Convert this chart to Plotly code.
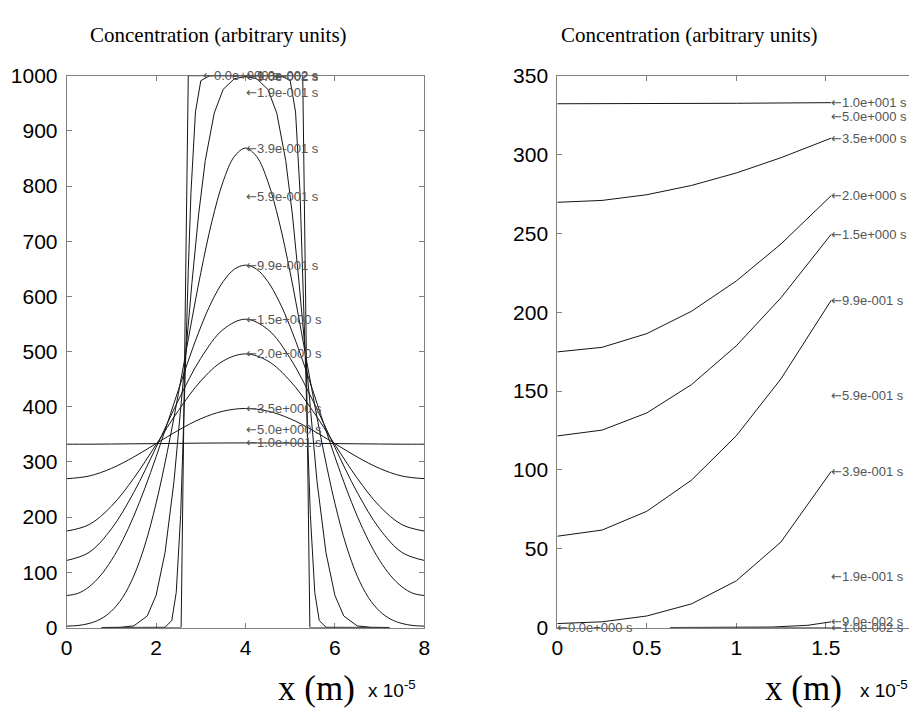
import plotly.graph_objects as go

# ---------------- data (x in units of 1e-5 m) ----------------
# Left panel: whole domain
X_HALF = [0, 0.5, 1, 1.5, 2, 2.5, 3, 3.5, 4, 4.5, 5, 5.5, 6, 6.5, 7, 7.5, 8]
X_QUARTER = [0, 0.25, 0.5, 0.75, 1, 1.25, 1.5, 1.75, 2, 2.25, 2.5, 2.75, 3, 3.25, 3.5, 3.75, 4,
             4.25, 4.5, 4.75, 5, 5.25, 5.5, 5.75, 6, 6.25, 6.5, 6.75, 7, 7.25, 7.5, 7.75, 8]

L_T10 = [332.2, 332.2, 332.5, 332.9, 333.3, 333.7, 334.1, 334.4, 334.5, 334.4, 334.1, 333.7, 333.3, 332.9, 332.5, 332.2, 332.2]
L_T3_5 = [269.7, 274.5, 288.3, 309.0, 333.3, 357.6, 378.3, 392.1, 396.9, 392.1, 378.3, 357.6, 333.3, 309.0, 288.3, 274.5, 269.7]
L_T2_0 = [174.8, 186.4, 219.8, 270.5, 331.3, 393.3, 446.8, 483.0, 495.8, 483.0, 446.8, 393.3, 331.3, 270.5, 219.8, 186.4, 174.8]
L_T1_5 = [121.5, 136.1, 178.7, 244.8, 326.5, 412.2, 487.9, 540.1, 558.7, 540.1, 487.9, 412.2, 326.5, 244.8, 178.7, 136.1, 121.5]
L_T0_99 = [57.9, 61.8, 73.7, 93.6, 121.6, 157.8, 201.7, 252.7, 309.3, 369.5, 430.9, 490.4, 545.0, 591.4, 626.9, 649.2, 656.7,
           649.2, 626.9, 591.4, 545.0, 490.4, 430.9, 369.5, 309.3, 252.7, 201.7, 157.8, 121.6, 93.6, 73.7, 61.8, 57.9]
L_T0_39 = [2.5, 3.6, 7.3, 15.0, 29.6, 54.3, 93.2, 149.5, 225.1, 318.3, 424.5, 535.8, 642.9, 736.3, 808.3, 853.5, 868.8,
           853.5, 808.3, 736.3, 642.9, 535.8, 424.5, 318.3, 225.1, 149.5, 93.2, 54.3, 29.6, 15.0, 7.3, 3.6, 2.5]

X_T0_09 = [0.78, 1.2, 1.5, 1.8, 2.0, 2.2, 2.4, 2.55, 2.667, 2.8, 2.95, 3.1, 3.3, 3.5, 3.75, 4.0,
           4.25, 4.5, 4.7, 4.9, 5.05, 5.2, 5.333, 5.45, 5.6, 5.8, 6.0, 6.2, 6.5, 6.8, 7.22]
L_T0_09 = [0, 0.3, 2.9, 20.7, 58.2, 135.7, 264.7, 391.4, 500, 623.2, 747.8, 846.3, 932.1, 975.2, 994.6, 998.3,
           994.6, 975.2, 932.1, 846.3, 747.8, 623.2, 500, 391.4, 264.7, 135.7, 58.2, 20.7, 2.9, 0.3, 0]

X_T0_01 = [0.78, 2.2, 2.35, 2.45, 2.55, 2.61, 2.667, 2.72, 2.78, 2.88, 3.0, 3.2,
           4.8, 5.0, 5.12, 5.22, 5.28, 5.333, 5.39, 5.45, 5.55, 5.65, 5.8, 7.22]
L_T0_01 = [0, 0.4, 12.7, 63.3, 204.8, 344.5, 500, 647, 788.5, 934.3, 990.9, 1000,
           1000, 990.9, 934.3, 788.5, 647, 500, 344.5, 204.8, 63.3, 12.7, 0.4, 0]

X_T0 = [0.78, 2.56, 2.72, 5.28, 5.44, 7.22]
L_T0 = [0, 0, 1000, 1000, 0, 0]

# Left panel labels
L_LABELS = ["0.0e+000 s", "1.0e-002 s", "9.0e-002 s", "1.9e-001 s", "3.9e-001 s", "5.9e-001 s",
            "9.9e-001 s", "1.5e+000 s", "2.0e+000 s", "3.5e+000 s", "5.0e+000 s", "1.0e+001 s"]
L_LABEL_X = [3.04, 4, 4, 4, 4, 4, 4, 4, 4, 4, 4, 4]
L_LABEL_Y = [1000, 1000, 998.3, 969, 868.8, 780.4, 656.7, 558.7, 495.8, 396.9, 358.5, 334.5]

# Right panel: zoom on 0 .. 1.53
X_R = [0, 0.25, 0.5, 0.75, 1.0, 1.25, 1.53]
R_T10 = [332.2, 332.2, 332.2, 332.3, 332.5, 332.7, 332.9]
R_T3_5 = [269.7, 270.9, 274.5, 280.4, 288.3, 298.0, 310.4]
R_T2_0 = [174.8, 177.7, 186.4, 200.6, 219.8, 243.3, 273.9]
R_T1_5 = [121.5, 125.2, 136.1, 154.1, 178.7, 209.2, 249.4]
R_T0_99 = [57.9, 61.8, 73.7, 93.5, 121.6, 157.8, 207.5]
R_T0_39 = [2.5, 3.6, 7.3, 15.0, 29.6, 54.3, 99.0]
X_R_T0_09 = [0.63, 1.0, 1.2, 1.4, 1.53]
R_T0_09 = [0, 0, 0.3, 1.4, 3.6]
X_R_ZERO = [0.63, 1.53]
R_ZERO = [0, 0]

R_LABELS = ["1.0e+001 s", "5.0e+000 s", "3.5e+000 s", "2.0e+000 s", "1.5e+000 s", "9.9e-001 s",
            "5.9e-001 s", "3.9e-001 s", "1.9e-001 s", "9.0e-002 s", "1.0e-002 s", "0.0e+000 s"]
R_LABEL_X = [1.53, 1.53, 1.53, 1.53, 1.53, 1.53, 1.53, 1.53, 1.53, 1.53, 1.53, 0]
R_LABEL_Y = [332.9, 324.2, 310.4, 273.9, 249.4, 207.5, 147.4, 99.0, 32.5, 3.6, 0, 0]

LEFT_Y_TICKS = [0, 100, 200, 300, 400, 500, 600, 700, 800, 900, 1000]
RIGHT_Y_TICKS = [0, 50, 100, 150, 200, 250, 300, 350]
LEFT_X_TICKS = [0, 2, 4, 6, 8]
RIGHT_X_TICKS = [0, 0.5, 1, 1.5, 2]
RIGHT_X_TEXT = ["0", "0.5", "1", "1.5", "2"]

# ---------------- figure ----------------
W, H = 917, 708
OFF = 8  # page body margin of the html page


def px(v):
    return (v - OFF) / W


def py(v):
    return 1 - (v - OFF) / H


fig = go.Figure()
LINE = dict(color="#151515", width=1)


def add(x, y, xa, ya, shape="linear"):
    fig.add_trace(go.Scatter(x=x, y=y, mode="lines", xaxis=xa, yaxis=ya,
                             line=dict(LINE, shape=shape), hoverinfo="skip", showlegend=False))


add(X_HALF, L_T10, "x", "y", "spline")
add(X_HALF, L_T3_5, "x", "y", "spline")
add(X_HALF, L_T2_0, "x", "y", "spline")
add(X_HALF, L_T1_5, "x", "y", "spline")
add(X_QUARTER, L_T0_99, "x", "y", "spline")
add(X_QUARTER, L_T0_39, "x", "y", "spline")
add(X_T0_09, L_T0_09, "x", "y")
add(X_T0_01, L_T0_01, "x", "y")
add(X_T0, L_T0, "x", "y")

add(X_R, R_T10, "x2", "y2")
add(X_R, R_T3_5, "x2", "y2")
add(X_R, R_T2_0, "x2", "y2")
add(X_R, R_T1_5, "x2", "y2")
add(X_R, R_T0_99, "x2", "y2")
add(X_R, R_T0_39, "x2", "y2")
add(X_R_T0_09, R_T0_09, "x2", "y2")
add(X_R_ZERO, R_ZERO, "x2", "y2")

LAB_FONT = dict(family="Liberation Sans, Arial, DejaVu Sans", size=13, color="#555555")
ARROW = '<span style="font-family:DejaVu Sans">\u2190</span>'
ann = []
for t, x, y in zip(L_LABELS, L_LABEL_X, L_LABEL_Y):
    ann.append(dict(x=x, y=y, xref="x", yref="y", text=ARROW + t, showarrow=False,
                    xanchor="left", yanchor="middle", font=LAB_FONT, borderpad=0, xshift=-1))
for t, x, y in zip(R_LABELS, R_LABEL_X, R_LABEL_Y):
    ann.append(dict(x=x, y=y, xref="x2", yref="y2", text=ARROW + t, showarrow=False,
                    xanchor="left", yanchor="middle", font=LAB_FONT, borderpad=0, xshift=-1))

SERIF = "Liberation Serif, Times New Roman, serif"
SANS = "Liberation Sans, Arial, sans-serif"
for cx in (218, 689):
    ann.append(dict(x=px(cx), y=py(35), xref="paper", yref="paper",
                    text="Concentration (arbitrary units)", showarrow=False,
                    xanchor="center", yanchor="middle",
                    font=dict(family=SERIF, size=21, color="black")))
for cx in (316.5, 803.5):
    ann.append(dict(x=px(cx), y=py(688), xref="paper", yref="paper",
                    text="x (m)", showarrow=False, xanchor="center", yanchor="middle",
                    font=dict(family=SERIF, size=35, color="black")))
for sx in (366, 858):
    ann.append(dict(x=px(sx), y=py(689), xref="paper", yref="paper",
                    text="x 10<sup>-5</sup>", showarrow=False, xanchor="left", yanchor="middle",
                    font=dict(family=SANS, size=19, color="black")))

AX = dict(showgrid=False, zeroline=False, showline=True, linecolor="#808080", linewidth=1,
          mirror="ticks", ticks="inside", ticklen=5, tickcolor="#808080", tickwidth=1,
          tickfont=dict(family=SANS, size=21, color="black"), layer="below traces",
          automargin=False)

ydom = [py(627.5), py(75.7)]
fig.update_layout(
    template="none",
    width=W, height=H, autosize=False,
    margin=dict(l=0, r=0, t=0, b=0, pad=0),
    paper_bgcolor="white", plot_bgcolor="white",
    showlegend=False,
    annotations=ann,
    xaxis=dict(AX, domain=[px(66.7), px(424.3)], range=[0, 8], tickvals=LEFT_X_TICKS,
               anchor="y", ticklabelstandoff=1),
    yaxis=dict(AX, domain=ydom, range=[0, 1000], tickvals=LEFT_Y_TICKS, anchor="x",
               ticklabelstandoff=4),
    xaxis2=dict(AX, domain=[px(557.3), px(915.3)], range=[0, 2], tickvals=RIGHT_X_TICKS,
                ticktext=RIGHT_X_TEXT, anchor="y2", ticklabelstandoff=1),
    yaxis2=dict(AX, domain=ydom, range=[0, 350], tickvals=RIGHT_Y_TICKS, anchor="x2",
                ticklabelstandoff=4),
)

fig.write_html("out.html")
